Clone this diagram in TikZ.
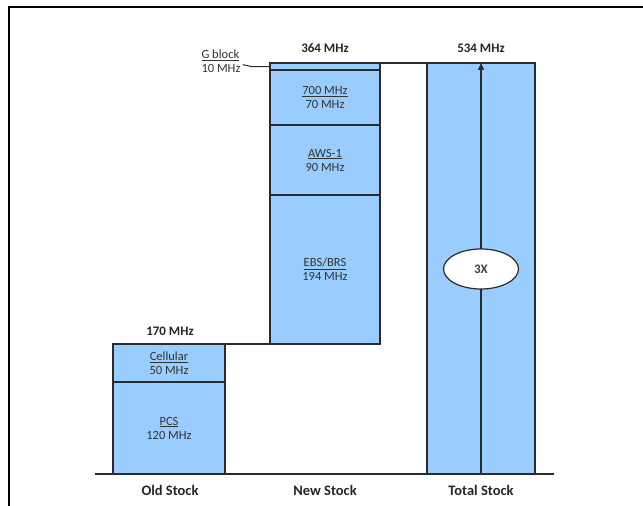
\documentclass[tikz,border=0pt]{standalone}
\usepackage{fontspec}
\setmainfont{Carlito}
\usetikzlibrary{arrows.meta,shapes.geometric,positioning}
\definecolor{bandblue}{HTML}{99CCFF}
\definecolor{inkgray}{HTML}{2B2B2B}
\tikzset{
  band/.style={draw=inkgray, fill=bandblue, line width=1.4pt, anchor=south west,
    inner sep=0pt, outer sep=0pt, align=center, font=\fontsize{12.5}{14}\selectfont, text=black!80},
  sumlbl/.style={font=\bfseries\fontsize{13}{15}\selectfont, text=black!85},
  stocklbl/.style={font=\bfseries\fontsize{14.5}{16}\selectfont, text=black!85}
}
\begin{document}
\begin{tikzpicture}[x=1pt, y=1pt]
    \useasboundingbox (0,0) rectangle (643,506);
    % frame
    \draw[line width=2.6pt] (9,0) -- (9,499) -- (643,499);
    % old stock
    \node[band, minimum width=112, minimum height=92] (pcs) at (113,32) {\underline{PCS}\\120 MHz};
    \node[band, minimum width=112, minimum height=38] (cell) at (113,124) {\underline{Cellular}\\50 MHz};
    % new stock
    \node[band, minimum width=110, minimum height=149] (ebs) at (270,162) {\underline{EBS/BRS}\\194 MHz};
    \node[band, minimum width=110, minimum height=70] (aws) at (270,311) {\underline{AWS-1}\\90 MHz};
    \node[band, minimum width=110, minimum height=55] (sevhun) at (270,381) {\underline{700 MHz}\\70 MHz};
    \node[band, minimum width=110, minimum height=7] (gblk) at (270,436) {};
    \draw[inkgray, line width=2.6pt] (aws.north west) -- (aws.north east);
    % total stock
    \node[band, minimum width=108, minimum height=411] (total) at (427,32) {};
    % steps between stacks
    \draw[inkgray, line width=1.4pt] (cell.north east) -- (ebs.south west);
    \draw[inkgray, line width=1.4pt] (gblk.north east) -- (total.north west);
    % G block call-out
    \node[font=\fontsize{12.5}{14}\selectfont, text=black!80, anchor=base west] (gname) at (198,447) {\underline{G block}};
    \node[font=\fontsize{12.5}{14}\selectfont, text=black!80, anchor=base west] (gsize) at (198,433) {10 MHz};
    \draw[inkgray, line width=1pt] (gname.south east) -- ++(9,-2) -- (gblk.west);
    % growth arrow
    \draw[inkgray, line width=1.4pt, -{Triangle[length=7pt,width=6pt]}] (total.south) -- (total.north);
    \node[ellipse, draw=inkgray, fill=white, line width=1.2pt, minimum width=75, minimum height=40,
      font=\bfseries\fontsize{13}{15}\selectfont, text=black!75] (three) at (481,237) {3X};
    % totals
    \node[sumlbl] (oldsum) at (170,175) {170 MHz};
    \node[sumlbl] (newsum) at (325,458) {364 MHz};
    \node[sumlbl] (totsum) at (481,458) {534 MHz};
    % base line and stock names
    \coordinate (basel) at (95,32);
    \coordinate (baser) at (554,32);
    \draw[inkgray, line width=1.4pt] (basel) -- (baser);
    \node[stocklbl] (oldlbl) at (170,16) {Old Stock};
    \node[stocklbl] (newlbl) at (325,16) {New Stock};
    \node[stocklbl] (totlbl) at (481,16) {Total Stock};
\end{tikzpicture}
\end{document}
